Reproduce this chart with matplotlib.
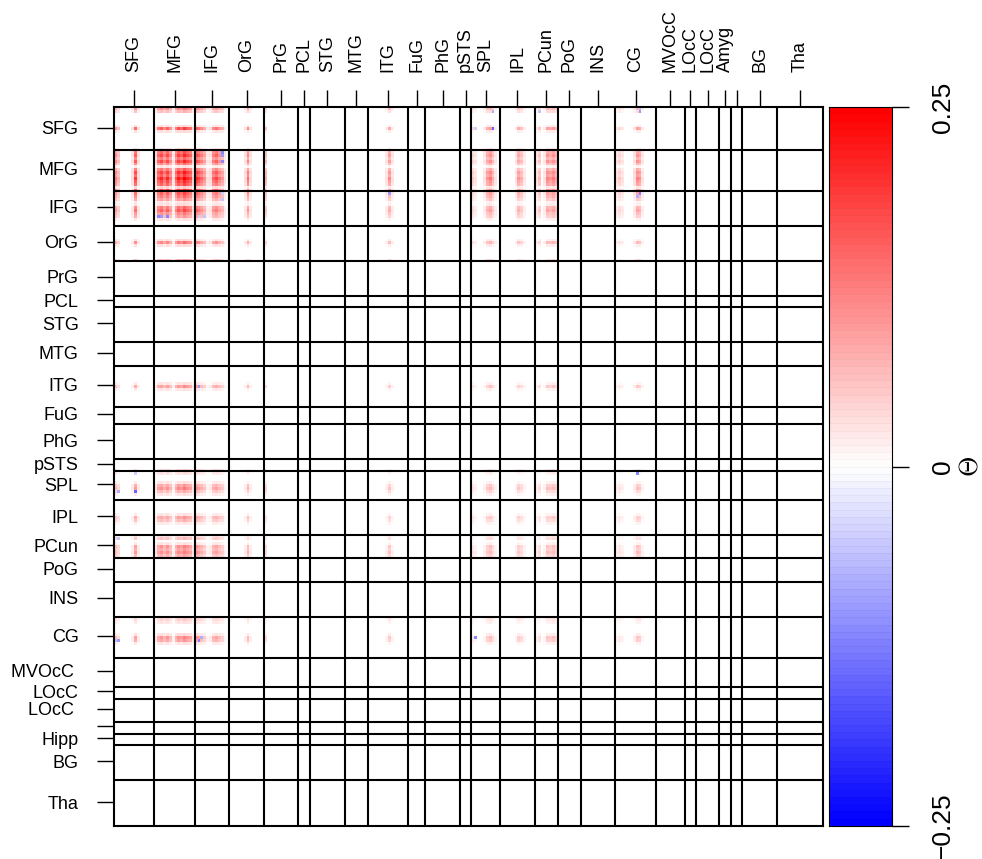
import numpy as np
import matplotlib
matplotlib.use("Agg")
import matplotlib.pyplot as plt
from matplotlib.colors import LinearSegmentedColormap, ListedColormap

# block layout of the 246 x 246 matrix
block_sizes = [14, 14, 12, 12, 12, 4, 12, 8, 14, 6, 12, 4, 10, 12, 8, 8, 12, 14, 10, 4, 8, 4, 4, 12, 16]
row_labels = ["SFG", "MFG", "IFG", "OrG", "PrG", "PCL", "STG", "MTG", "ITG", "FuG", "PhG", "pSTS",
              "SPL", "IPL", "PCun", "PoG", "INS", "CG", "MVOcC ", "LOcC", "LOcC ", "", "Hipp", "BG", "Tha"]
col_labels = ["SFG", "MFG", "IFG", "OrG", "PrG", "PCL", "STG", "MTG", "ITG", "FuG", "PhG", "pSTS",
              "SPL", "IPL", "PCun", "PoG", "INS", "CG", "MVOcC", "LOcC", "LOcC", "Amyg", "", "BG", "Tha"]

# node loadings: (first node index, weights of consecutive nodes)
node_loadings = [
    (0, [0.25, 0.15]), (6, [0.08, 0.38, 0.08]),                               # SFG
    (14, [0.08, 0.35, 0.42, 0.3, 0.42, 0.28, 0.06]),                          # MFG a
    (21, [0.32, 0.45, 0.38, 0.5, 0.42, 0.36, 0.1]),                           # MFG b
    (28, [0.42, 0.36, 0.3, 0.22, 0.06]), (33, [0.08, 0.3, 0.36, 0.26, 0.2, 0.06]),  # IFG
    (45, [0.08, 0.28, 0.08]),                                                 # OrG
    (52, [0.16]),                                                             # PrG
    (94, [0.06, 0.22, 0.06]),                                                 # ITG
    (124, [0.1, 0.06]), (128, [0.06, 0.2, 0.26, 0.16, 0.06]),                 # SPL
    (139, [0.06, 0.2, 0.15, 0.05]),                                           # IPL
    (146, [0.06, 0.14]), (149, [0.06, 0.24, 0.2, 0.25, 0.18]),                # PCun
    (174, [0.06, 0.1, 0.06]), (180, [0.08, 0.24, 0.2, 0.06]),                 # CG
]
# isolated negative cells (row, col, value), mirrored
negative_cells = [(7, 131, -0.15), (37, 15, -0.12), (37, 18, -0.15), (37, 29, -0.06), (37, 31, -0.06),
                  (16, 37, -0.1), (18, 37, -0.12), (29, 37, -0.05), (182, 29, -0.12), (181, 30, -0.08),
                  (182, 0, -0.06), (181, 125, -0.12), (1, 147, -0.08), (1, 182, -0.1), (29, 95, -0.1),
                  (125, 7, -0.05), (131, 1, -0.08), (147, 1, -0.06)]
vlim = 0.25
n_colors = 100

plt.rcParams["font.family"] = ["Liberation Sans", "DejaVu Sans"]
plt.rcParams["mathtext.fontset"] = "cm"

n = sum(block_sizes)
load = np.zeros(n)
for start, ws in node_loadings:
    load[start:start + len(ws)] = ws
M = np.outer(load, load)
for r, c, v in negative_cells:
    M[r, c] = v; M[c, r] = v
M = np.ma.masked_equal(M, 0)

bounds = np.concatenate([[0], np.cumsum(block_sizes)])
mids = (bounds[:-1] + bounds[1:]) / 2

ramp = LinearSegmentedColormap.from_list("bwr_r", ["blue", "white", "red"])
cmap = ListedColormap(ramp(np.linspace(0, 1, n_colors)))
cmap.set_bad("white")

W, H = 982, 859
fig = plt.figure(figsize=(W / 100, H / 100), dpi=100)
ax = fig.add_axes([114 / W, (H - 825.7) / H, 709 / W, 718.4 / H])
ax.imshow(M, cmap=cmap, vmin=-vlim, vmax=vlim, extent=(0, n, n, 0),
          interpolation="nearest", aspect="auto")
for b in bounds[1:-1]:
    ax.axvline(b, color="black", lw=1.5)
    ax.axhline(b + 0.5, color="black", lw=1.5)
ax.set_xlim(0, n); ax.set_ylim(n, 0)
ax.xaxis.tick_top()
ax.set_xticks(mids); ax.set_xticklabels(col_labels, rotation=90)
ax.set_yticks(mids); ax.set_yticklabels(row_labels)
ax.tick_params(length=12.5, width=1, pad=13, labelsize=13, colors="black")
for s in ax.spines.values():
    s.set_linewidth(1.5)

# colour key
cax = fig.add_axes([829.3 / W, (H - 825.7) / H, 62.4 / W, 718.4 / H])
edges = np.linspace(-vlim, vlim, n_colors + 1)
centers = (edges[:-1] + edges[1:]) / 2
cax.pcolormesh([0, 1], edges, centers[:, None], cmap=cmap, vmin=-vlim, vmax=vlim)
for e in edges[1:-1]:
    cax.axhline(e, color="black", lw=0.4, alpha=0.06)
cax.set_xlim(0, 1); cax.set_ylim(-vlim, vlim)
cax.set_xticks([])
cax.yaxis.tick_right()
cax.set_yticks([-vlim, 0, vlim])
cax.set_yticklabels(["\u22120.25", "0", "0.25"], rotation=90, va="center")
cax.tick_params(length=12, width=1, pad=16, labelsize=19)
for s in cax.spines.values():
    s.set_linewidth(0.8)
fig.text(970 / W, (H - 466.6) / H, r"$\Theta$", rotation=90, fontsize=19, ha="center", va="center")

fig.savefig("out.png", dpi=100)
